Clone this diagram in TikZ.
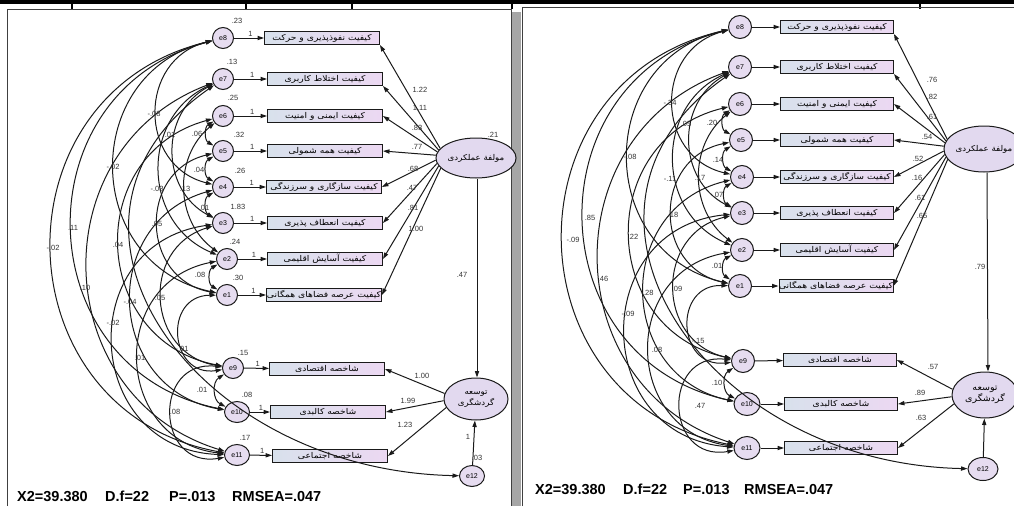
\documentclass[tikz,border=0pt]{standalone}
\usepackage{fontspec}
\setmainfont{Liberation Sans}
\newfontfamily\fa[Script=Arabic,FakeStretch=1.15]{DejaVu Sans}
\newfontfamily\faL[Script=Arabic,FakeStretch=1.08]{DejaVu Sans}
\TeXXeTstate=1
\usetikzlibrary{arrows.meta,shapes.geometric,calc}
\definecolor{ecol}{HTML}{E6DCF0}
\definecolor{boxL}{HTML}{D8E1EC}
\definecolor{boxR}{HTML}{ECD8F2}
\definecolor{latc}{HTML}{E2D9EF}
\definecolor{ink}{HTML}{1A1A1A}
\newcommand\fatext[1]{\beginR #1\endR}
\newcommand\covset[1]{%
  \foreach \a/\b/\ang in {8/11/78,8/10/77,8/4/76,8/1/77,7/11/71,7/3/62,6/5/60,6/9/77,6/2/52,5/4/60,5/1/78,4/3/60,4/10/77,7/2/66,3/9/77,3/11/85,2/1/60,2/11/81,1/9/94,9/10/60,9/11/98}
    \draw[cov,arcb=\ang] (#1-e\a) to (#1-e\b);
  \draw[cov] (#1-e7) .. controls ($(#1-e7)+(-203,141)$) and ($(#1-e12)+(-282,-6)$) .. (#1-e12);
}
\begin{document}
\begin{tikzpicture}[x=1pt,y=-1pt,
  >={Triangle[length=6.5pt,width=4.2pt]},
  evar/.style={circle,draw=ink,line width=1pt,fill=ecol,minimum size=21pt,inner sep=0pt,font=\fontsize{7}{8}\selectfont},
  evarw/.style={evar,ellipse,minimum width=25pt,minimum height=21pt},
  obs/.style={rectangle,draw=ink,line width=0.9pt,left color=boxL,right color=boxR,minimum width=115pt,minimum height=13pt,inner sep=0pt,font=\fa\fontsize{8}{8.5}\selectfont},
  lat/.style={ellipse,draw=ink,line width=1pt,fill=latc,inner sep=0pt,align=center,font=\faL\fontsize{8}{10.5}\selectfont},
  arr/.style={->,line width=1pt,draw=ink},
  cov/.style={<->,line width=1pt,draw=ink},
  arcb/.style={bend right=#1,/utils/exec={\pgfmathsetmacro\arcloose{1.703/(1+cos(#1))}},looseness=\arcloose},
  lab/.style={font=\fontsize{7.5}{8}\selectfont,text=black!80,inner sep=0pt},
  stat/.style={font=\bfseries\fontsize{14.5}{16}\selectfont,inner sep=0pt,anchor=base west},
]
\useasboundingbox (0,0) rectangle (1014,506);
% top bar and frames
\fill[black] (0,0) rectangle (1014,3.5);
\foreach \x [count=\i] in {72,246,352,512,920} \fill[black] (\x-1,0) rectangle (\x+1,9);
\fill[black!35] (512,12) rectangle (521,506);
\draw[line width=1pt,black!75] (7,506) -- (7,9) -- (511,9) -- (511,506);
\draw[line width=1pt,black!75] (522,506) -- (522,7) -- (1014,7);

% ================= LEFT PANEL =================
\foreach \n/\x/\y in {8/223/38,7/223/79,6/223/116,5/223/151,4/223/187,3/223/223,2/227/259,1/227/295,9/233/368}
  \node[evar] (L-e\n) at (\x,\y) {e\n};
\node[evarw] (L-e10) at (237,412) {e10};
\node[evarw] (L-e11) at (237,455) {e11};
\node[evarw] (L-e12) at (472,476) {e12};
\foreach \n/\x/\y/\t in {8/322/38/{کیفیت نفوذپذیری و حرکت},7/325/79/{کیفیت اختلاط کاربری},6/325/116/{کیفیت ایمنی و امنیت},5/325/151/{کیفیت همه شمولی},4/324/187/{کیفیت سازگاری و سرزندگی},3/325/223/{کیفیت انعطاف پذیری},2/325/259/{کیفیت آسایش اقلیمی},1/324/295/{کیفیت عرصه فضاهای همگانی},9/327/369/{شاخصه اقتصادی},10/328/412/{شاخصه کالبدی},11/330/456/{شاخصه اجتماعی}}
  \node[obs] (L-r\n) at (\x,\y) {\fatext{\t}};
\node[lat,minimum width=56pt,minimum height=40pt] (L-lat1) at (476,158) {\fatext{مولفة عملکردی}};
\node[lat,minimum width=64pt,minimum height=42pt] (L-lat2) at (476,399) {\fatext{توسعه}\\\fatext{گردشگری}};

\foreach \n in {8,7,6,5,4,3,2,1,9,10,11}
  \draw[arr] (L-e\n) -- (L-r\n) node[lab,pos=.55,above=1.5pt] {1};
\draw[arr] (L-lat1.165) -- (L-r8.south east);
\draw[arr] (L-lat1.168) -- (L-r7.south east);
\draw[arr] (L-lat1.171) -- (L-r6.east);
\draw[arr] (L-lat1.176) -- (L-r5.east);
\draw[arr] (L-lat1.183) -- (L-r4.east);
\draw[arr] (L-lat1.188) -- (L-r3.east);
\draw[arr] (L-lat1.192) -- (L-r2.east);
\draw[arr] (L-lat1.196) -- (L-r1.east);
\draw[arr] ([xshift=1pt]L-lat1.south) -- ([xshift=1pt]L-lat2.north);
\draw[arr] (L-lat2.170) -- (L-r9.east);
\draw[arr] (L-lat2.183) -- (L-r10.east);
\draw[arr] (L-lat2.196) -- (L-r11.east);
\draw[arr] (L-e12) -- (L-lat2);
\covset{L}
% left labels
\foreach \t/\x/\y [count=\i] in {-.08/154/114,.01/170/135,.06/197/134,-.02/113/167,.04/199/170,-.03/157/189,.13/185/189,.01/204/208,.11/73/228,.05/157/224,-.02/53/248,.04/118/245,.08/200/275,.10/85/288,-.04/130/302,.05/160/298,-.02/113/323,-.01/182/349,.01/140/358,.01/202/390,.08/175/412}
  \node[lab] (LC\i) at (\x,\y) {\t};
\foreach \t/\x/\y [count=\i] in {.23/237/21,.13/232/62,.25/233/98,.32/239/135,.26/240/171,1.83/238/207,.24/235/242,.30/238/278,.15/243/353,.08/247/395,.17/245/438,.21/493/135,.03/477/458}
  \node[lab] (LV\i) at (\x,\y) {\t};
\foreach \t/\x/\y [count=\i] in {1.22/420/90,1.11/420/108,.83/417/128,.77/417/147,.68/413/169,.47/412/188,.81/413/208,1.00/416/229,.47/462/275,1.00/422/376,1.99/408/401,1.23/405/425,1/468/437}
  \node[lab] (LW\i) at (\x,\y) {\t};
\node[stat] (Ls1) at (17,501) {X2=39.380};
\node[stat] (Ls2) at (105,501) {D.f=22};
\node[stat] (Ls3) at (169,501) {P=.013};
\node[stat] (Ls4) at (232,501) {RMSEA=.047};

% ================= RIGHT PANEL =================
\foreach \n/\x/\y in {8/740/27,7/740/67,6/740/104,5/741/140,4/742/177,3/742/213,2/742/250,1/740/286,9/743/361}
  \node[evar,minimum size=23pt] (R-e\n) at (\x,\y) {e\n};
\node[evarw,minimum width=26pt,minimum height=23pt] (R-e10) at (747,404) {e10};
\node[evarw,minimum width=26pt,minimum height=23pt] (R-e11) at (747,448) {e11};
\node[evarw,minimum width=30pt,minimum height=23pt] (R-e12) at (983,469) {e12};
\foreach \n/\x/\y/\t in {8/837/27/{کیفیت نفوذپذیری و حرکت},7/837/67/{کیفیت اختلاط کاربری},6/837/104/{کیفیت ایمنی و امنیت},5/837/140/{کیفیت همه شمولی},4/837/177/{کیفیت سازگاری و سرزندگی},3/837/213/{کیفیت انعطاف پذیری},2/837/250/{کیفیت آسایش اقلیمی},1/836/286/{کیفیت عرصه فضاهای همگانی},9/840/360/{شاخصه اقتصادی},10/841/404/{شاخصه کالبدی},11/841/448/{شاخصه اجتماعی}}
  \node[obs,minimum width=113pt] (R-r\n) at (\x,\y) {\fatext{\t}};
\node[lat,minimum width=66pt,minimum height=46pt,font=\faL\fontsize{8}{11}\selectfont] (R-lat1) at (984,149) {\fatext{مولفة عملکردی}};
\node[lat,minimum width=66pt,minimum height=46pt,font=\faL\fontsize{8.8}{11.5}\selectfont] (R-lat2) at (985,395) {\fatext{توسعه}\\\fatext{گردشگری}};
\foreach \n in {8,7,6,5,4,3,2,1,9,10,11}
  \draw[arr] (R-e\n) -- (R-r\n);
\draw[arr] (R-lat1.165) -- (R-r8.south east);
\draw[arr] (R-lat1.168) -- (R-r7.south east);
\draw[arr] (R-lat1.171) -- (R-r6.east);
\draw[arr] (R-lat1.176) -- (R-r5.east);
\draw[arr] (R-lat1.183) -- (R-r4.east);
\draw[arr] (R-lat1.188) -- (R-r3.east);
\draw[arr] (R-lat1.192) -- (R-r2.east);
\draw[arr] (R-lat1.196) -- (R-r1.east);
\draw[arr] ([xshift=3pt]R-lat1.south) -- ([xshift=3pt]R-lat2.north);
\draw[arr] (R-lat2.170) -- (R-r9.east);
\draw[arr] (R-lat2.183) -- (R-r10.east);
\draw[arr] (R-lat2.196) -- (R-r11.east);
\draw[arr] (R-e12) -- (R-lat2);
\covset{R}
\foreach \t/\x/\y [count=\i] in {-.34/670/103,.05/686/124,.20/712/123,-.08/630/157,.14/718/160,-.11/670/179,.17/700/178,.07/718/195,.85/590/218,-.09/573/240,.22/633/237,.18/673/215,.01/717/266,.46/603/279,-.28/647/293,.09/677/289,-.09/628/314,-.15/698/341,.08/657/350,.10/717/383,.47/700/406}
  \node[lab] (RC\i) at (\x,\y) {\t};
\foreach \t/\x/\y [count=\i] in {.76/932/80,.82/932/97,.61/932/117,.54/927/137,.52/918/159,.16/917/178,.61/920/198,.65/922/216,.79/980/267,.57/933/367,.89/920/393,.63/921/418}
  \node[lab] (RW\i) at (\x,\y) {\t};
\node[stat] (Rs1) at (535,494) {X2=39.380};
\node[stat] (Rs2) at (623,494) {D.f=22};
\node[stat] (Rs3) at (683,494) {P=.013};
\node[stat] (Rs4) at (744,494) {RMSEA=.047};
\end{tikzpicture}
\end{document}
